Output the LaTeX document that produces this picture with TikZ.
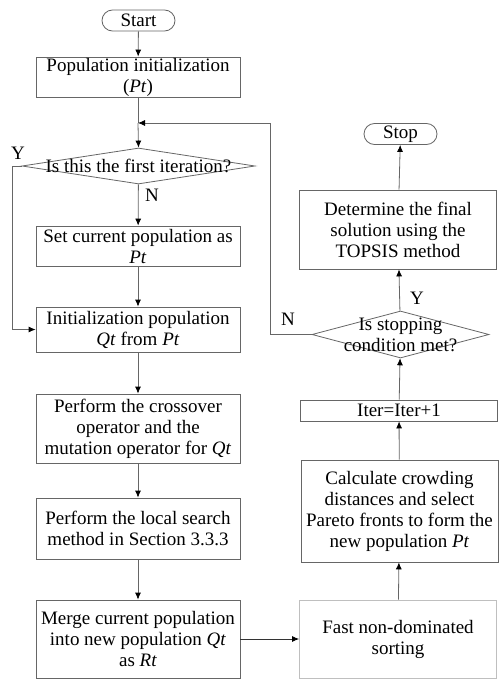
\documentclass[tikz,border=0pt]{standalone}
\usepackage{fontspec}
\setmainfont{Liberation Serif}
\usepackage{xcolor}
\usetikzlibrary{arrows.meta, shapes.geometric}

\begin{document}
\begin{tikzpicture}[x=1pt, y=-1pt, line width=0.8pt,
	every node/.style={font=\fontsize{19}{21}\selectfont, inner sep=0pt},
	box/.style={draw=black!60, align=center, minimum height=#1},
	lbox/.style={box=#1, minimum width=204},
	rbox/.style={box=#1, minimum width=197},
	term/.style={draw=black!60, rounded corners=10.5pt, minimum width=73, minimum height=21},
	ask/.style={diamond, draw=black!60, minimum width=#1},
	flow/.style={draw=black!60, -{Latex[length=7pt, width=6pt, color=black]}},
	tag/.style={font=\fontsize{19}{21}\selectfont}]

\useasboundingbox (0,0) rectangle (498,680);

% left column
\node[term] (start) at (138.5, 20.5) {Start};
\node[lbox=40] (init) at (138, 77) {Population initialization\\(\textit{Pt})};
\coordinate (join) at (138, 123);
\node[ask=233, minimum height=36] (first) at (138.5, 166) {};
\node at (first) {Is this the first iteration?};
\node[lbox=40] (set) at (138, 246) {Set current population as\\\textit{Pt}};
\node[lbox=45] (initq) at (138, 329.5) {Initialization population\\\textit{Qt} from \textit{Pt}};
\node[lbox=69] (cross) at (138, 428.5) {Perform the crossover\\operator and the\\mutation operator for \textit{Qt}};
\node[lbox=61] (local) at (138, 528.5) {Perform the local search\\method in Section 3.3.3};
\node[lbox=78] (merge) at (138, 639) {Merge current population\\into new population \textit{Qt}\\as \textit{Rt}};

% right column
\node[rbox=78, draw=black!25] (fast) at (398, 639) {Fast non-dominated\\sorting};
\node[rbox=102] (calc) at (399.5, 511) {Calculate crowding\\distances and select\\Pareto fronts to form the\\new population \textit{Pt}};
\node[rbox=21] (iter) at (399, 410.5) {Iter=Iter+1};
\node[ask=177, minimum height=47] (stopq) at (400.5, 334.5) {};
\node[align=center] at (stopq) {Is stopping\\condition met?};
\node[rbox=79] (det) at (398, 229.5) {Determine the final\\solution using the\\TOPSIS method};
\node[term] (stop) at (400.5, 134) {Stop};

\coordinate (back) at (270, 334.5);
\coordinate (skip) at (12, 166);

\draw[flow] (start) -- (init);
\draw[draw=black!60] (init) -- (join);
\draw[flow] (join) -- (first.north);
\draw[flow] (first) -- (set);
\draw[flow] (set) -- (initq);
\draw[flow] (first.west) -- (skip) |- (initq.west);
\draw[flow] (initq) -- (cross);
\draw[flow] (cross) -- (local);
\draw[flow] (local) -- (merge);
\draw[flow, draw=black!80] (merge) -- (fast);
\draw[flow] (fast) -- (calc);
\draw[flow] (calc) -- (iter);
\draw[flow] (iter) -- (stopq);
\draw[flow] (stopq) -- (det);
\draw[flow] (det) -- (stop);
\draw[flow] (stopq.west) -- (back) |- (join);

\node[tag] at (18, 153) {Y};
\node[tag] at (152, 195) {N};
\node[tag] at (288, 319) {N};
\node[tag] at (417, 298) {Y};

\end{tikzpicture}
\end{document}
